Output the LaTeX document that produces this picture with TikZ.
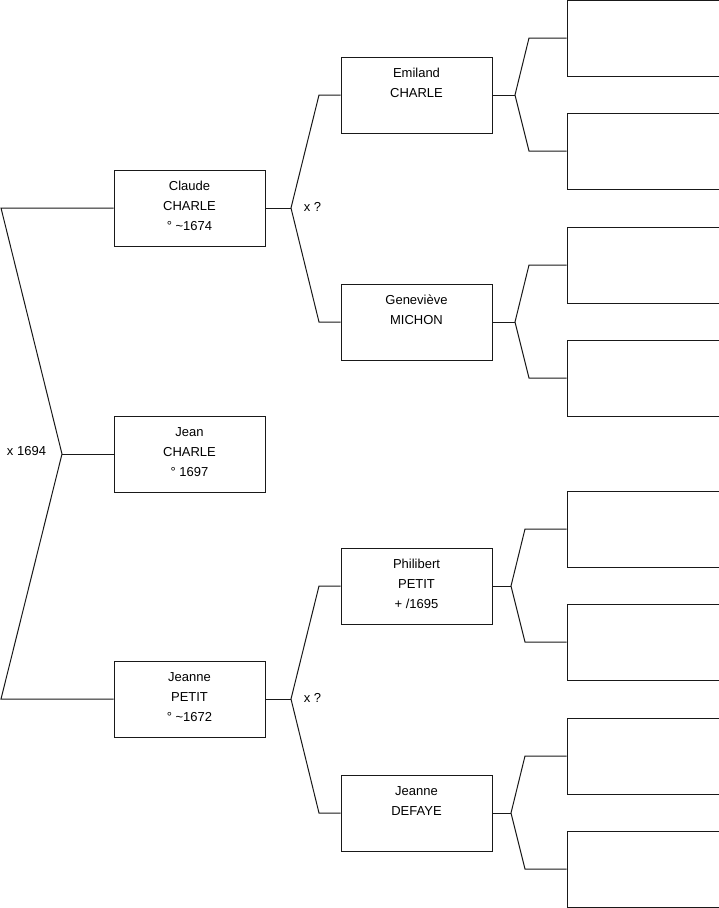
\documentclass[tikz,border=0pt]{standalone}
\usepackage{fontspec}
\setmainfont{Liberation Sans}
\begin{document}
\begin{tikzpicture}[x=1pt,y=-1pt,
  person/.style={draw=black!90, line width=1pt, minimum width=151pt, minimum height=76pt,
    inner sep=0pt, align=center, text depth=4pt, font=\fontsize{13}{20}\selectfont},
  empty/.style={draw=black!90, line width=1pt, minimum width=152pt, minimum height=76pt, inner sep=0pt},
  link/.style={draw=black!90, line width=1pt},
  lab/.style={font=\fontsize{13}{15}\selectfont, inner sep=0pt}]
\useasboundingbox (0,0) rectangle (719,908);
% generation 1
\node[person] (claude) at (189.5,208) {Claude\\CHARLE\\° \textasciitilde1674};
\node[person] (jean) at (189.5,454) {Jean\\CHARLE\\° 1697};
\node[person] (jeanne) at (189.5,699) {Jeanne\\PETIT\\° \textasciitilde1672};
% generation 2
\node[person] (emiland) at (416.5,95) {Emiland\\CHARLE\\\mbox{}};
\node[person] (genevieve) at (416.5,322) {Geneviève\\MICHON\\\mbox{}};
\node[person] (philibert) at (416.5,586) {Philibert\\PETIT\\+ /1695};
\node[person] (defaye) at (416.5,813) {Jeanne\\DEFAYE\\\mbox{}};
% generation 3
\node[empty] (r1) at (643,38) {};
\node[empty] (r2) at (643,151) {};
\node[empty] (r3) at (643,265) {};
\node[empty] (r4) at (643,378) {};
\node[empty] (r5) at (643,529) {};
\node[empty] (r6) at (643,642) {};
\node[empty] (r7) at (643,756) {};
\node[empty] (r8) at (643,869) {};
% left fork
\coordinate (l1) at (1,208);
\coordinate (l2) at (62,454);
\coordinate (l3) at (1,699);
\draw[link] (claude.west) -- (l1) -- (l2) -- (l3) -- (jeanne.west);
\draw[link] (l2) -- (jean.west);
\node[lab] (m1) at (26.5,451) {x 1694};
% claude fork
\coordinate (c0) at (291,208);
\coordinate (c1) at (319,95);
\coordinate (c2) at (319,322);
\draw[link] (claude.east) -- (c0);
\draw[link] (emiland.west) -- (c1) -- (c0) -- (c2) -- (genevieve.west);
\node[lab] (m2) at (312.5,207) {x ?};
% jeanne fork
\coordinate (p0) at (291,699);
\coordinate (p1) at (319,586);
\coordinate (p2) at (319,813);
\draw[link] (jeanne.east) -- (p0);
\draw[link] (philibert.west) -- (p1) -- (p0) -- (p2) -- (defaye.west);
\node[lab] (m3) at (312.5,698) {x ?};
% emiland fork
\coordinate (e0) at (515,95);
\coordinate (e1) at (529,38);
\coordinate (e2) at (529,151);
\draw[link] (emiland.east) -- (e0);
\draw[link] (r1.west) -- (e1) -- (e0) -- (e2) -- (r2.west);
% genevieve fork
\coordinate (g0) at (515,322);
\coordinate (g1) at (529,265);
\coordinate (g2) at (529,378);
\draw[link] (genevieve.east) -- (g0);
\draw[link] (r3.west) -- (g1) -- (g0) -- (g2) -- (r4.west);
% philibert fork
\coordinate (h0) at (511,586);
\coordinate (h1) at (525,529);
\coordinate (h2) at (525,642);
\draw[link] (philibert.east) -- (h0);
\draw[link] (r5.west) -- (h1) -- (h0) -- (h2) -- (r6.west);
% defaye fork
\coordinate (d0) at (511,813);
\coordinate (d1) at (525,756);
\coordinate (d2) at (525,869);
\draw[link] (defaye.east) -- (d0);
\draw[link] (r7.west) -- (d1) -- (d0) -- (d2) -- (r8.west);
\end{tikzpicture}
\end{document}
